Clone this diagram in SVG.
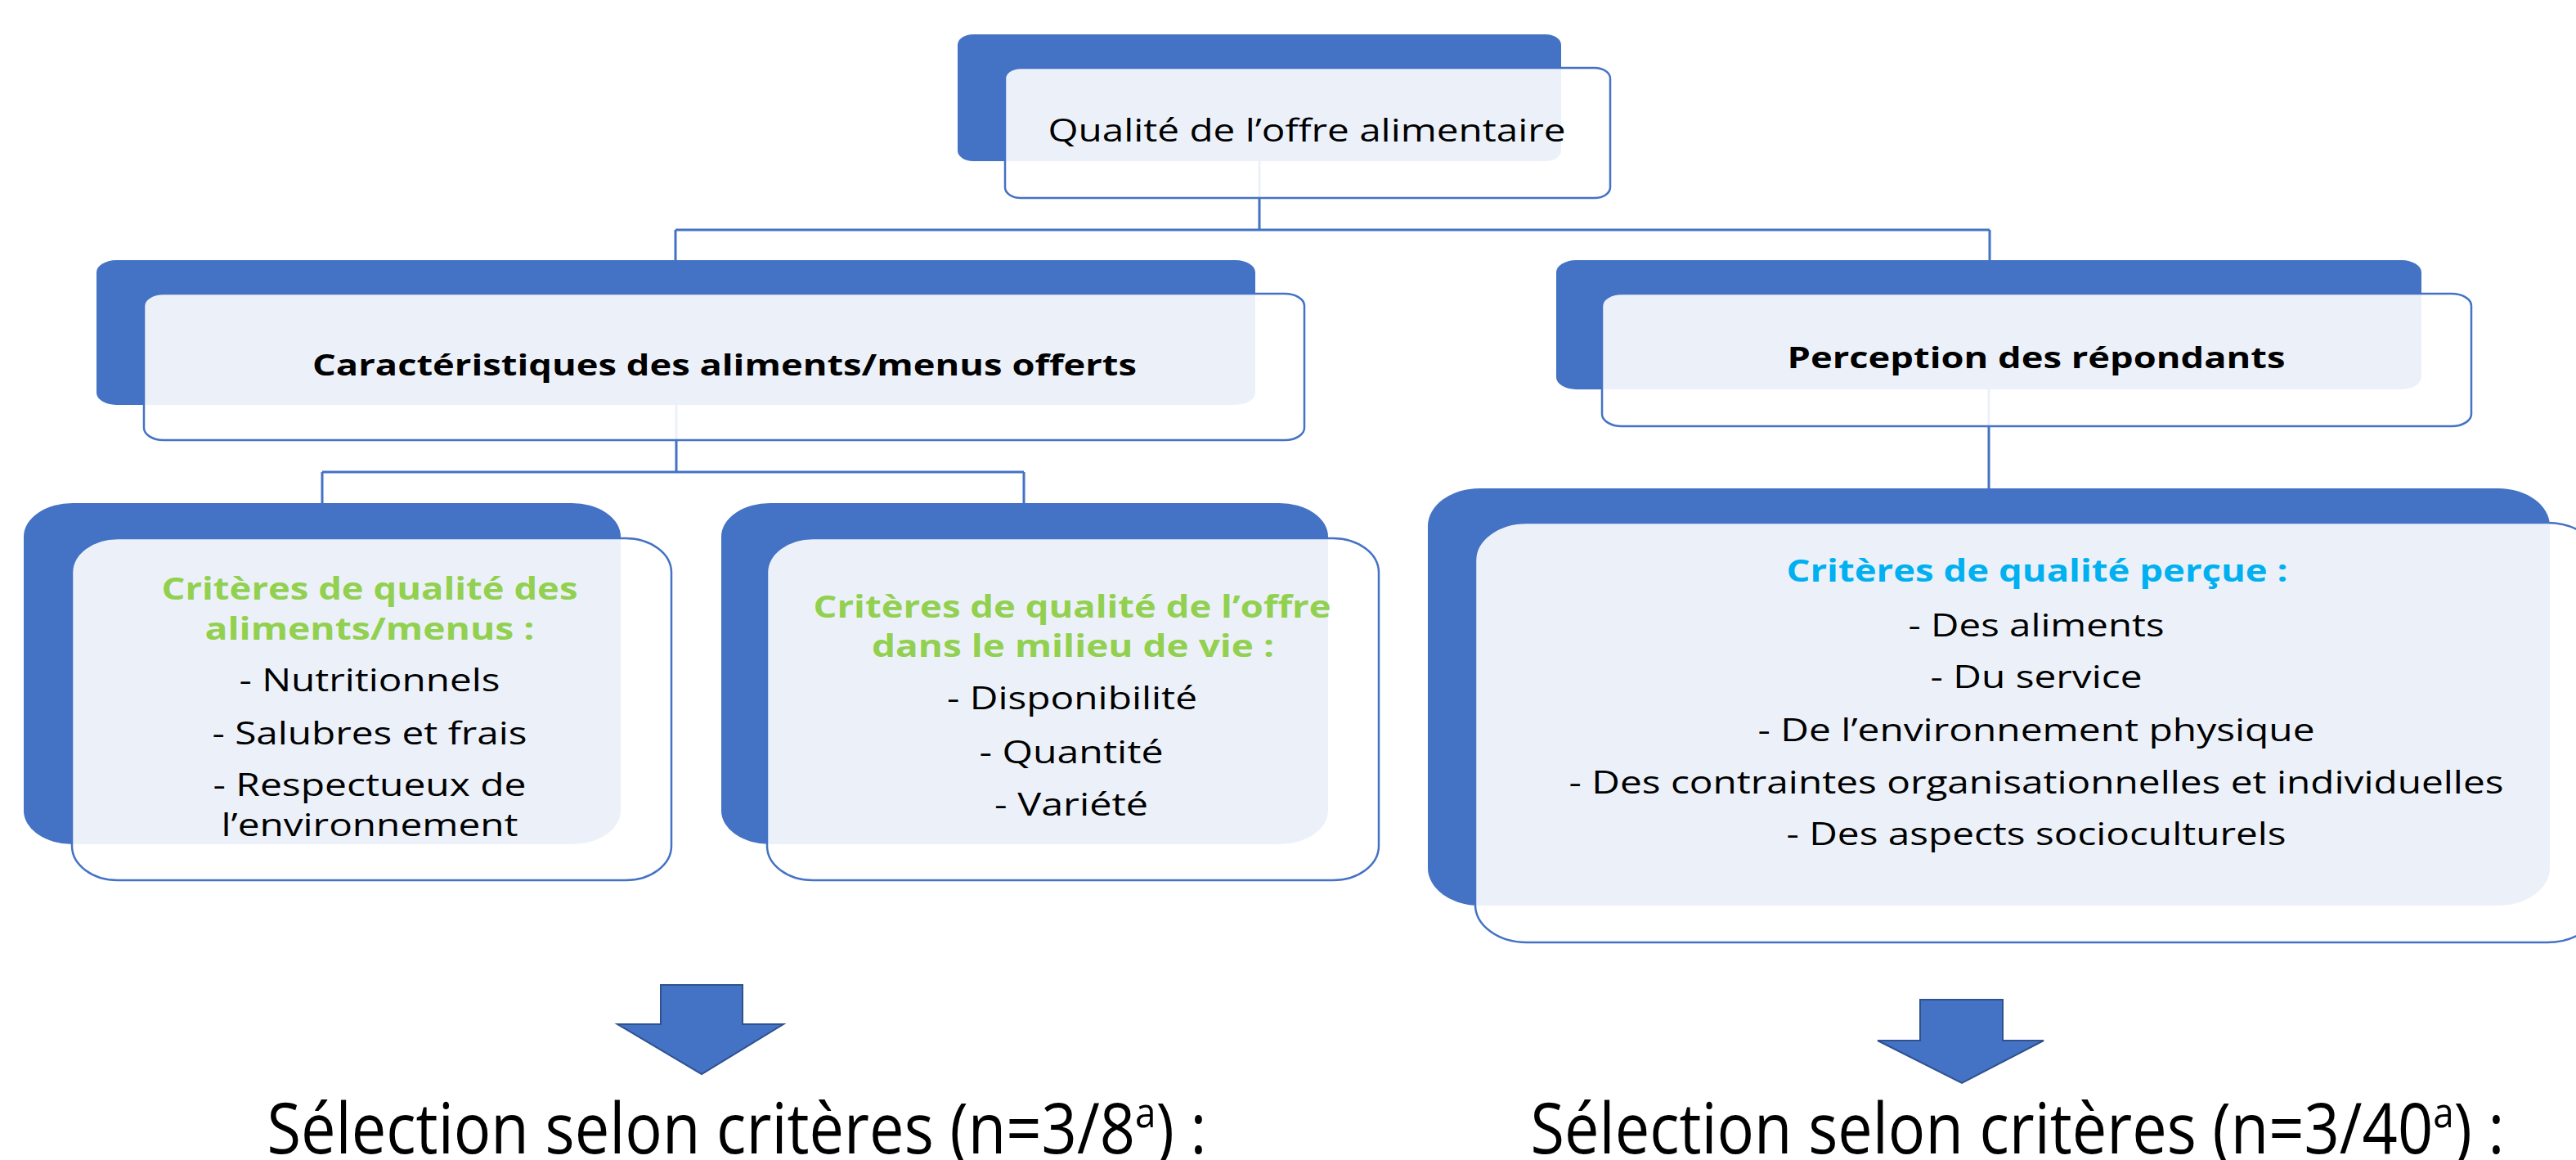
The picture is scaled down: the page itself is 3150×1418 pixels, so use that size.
<svg xmlns="http://www.w3.org/2000/svg" width="3150" height="1418" viewBox="0 0 3150 1418">
<style>
.back{fill:#4472C4}
.front{fill:#FFFFFF;fill-opacity:0.9;stroke:#4472C4;stroke-width:2.5}
.conn{fill:none;stroke:#4472C4;stroke-width:3}
.t{font-family:"Open Sans","Noto Sans","Liberation Sans",sans-serif;fill:#000;text-anchor:middle}
.b{font-weight:700}
.g{fill:#92D050;font-weight:700}
.c{fill:#00B0F0;font-weight:700}
.arrow{fill:#4472C4;stroke:#2F528F;stroke-width:2}
</style>
<rect width="3150" height="1418" fill="#FFFFFF"/>
<g id="connectors">
<path class="conn" d="M1540 197 V281 M826 281 H2433 M826 281 V318 M2433 281 V318"/>
<path class="conn" d="M827 495 V577 M394 577 H1252 M394 577 V615 M1252 577 V615"/>
<path class="conn" d="M2432 476 V597"/>
</g>
<g id="node-root">
<rect class="back" x="1171" y="42" width="738" height="155" rx="19" ry="13"/>
<rect class="front" x="1229" y="83" width="740" height="159" rx="19" ry="13"/>
<text class="t" x="1598" y="173" font-size="38" textLength="633" lengthAdjust="spacingAndGlyphs">Qualité de l’offre alimentaire</text>
</g>
<g id="node-caracteristiques">
<rect class="back" x="118" y="318" width="1417" height="177" rx="24" ry="15"/>
<rect class="front" x="176" y="359" width="1419" height="179" rx="24" ry="15"/>
<text class="t b" x="886" y="459" font-size="36" textLength="1008" lengthAdjust="spacingAndGlyphs">Caractéristiques des aliments/menus offerts</text>
</g>
<g id="node-perception">
<rect class="back" x="1903" y="318" width="1058" height="158" rx="24" ry="15"/>
<rect class="front" x="1959" y="359" width="1063" height="162" rx="24" ry="15"/>
<text class="t b" x="2490" y="450" font-size="36" textLength="609" lengthAdjust="spacingAndGlyphs">Perception des répondants</text>
</g>
<g id="node-criteres-aliments">
<rect class="back" x="29" y="615" width="730" height="417" rx="60" ry="41"/>
<rect class="front" x="88" y="658" width="733" height="418" rx="56" ry="42"/>
<text class="t g" x="452" y="733" font-size="38" textLength="509" lengthAdjust="spacingAndGlyphs">Critères de qualité des</text>
<text class="t g" x="452" y="782" font-size="38" textLength="403" lengthAdjust="spacingAndGlyphs">aliments/menus :</text>
<text class="t" x="452" y="845" font-size="38" textLength="319" lengthAdjust="spacingAndGlyphs">- Nutritionnels</text>
<text class="t" x="452" y="910" font-size="38" textLength="385" lengthAdjust="spacingAndGlyphs">- Salubres et frais</text>
<text class="t" x="452" y="973" font-size="38" textLength="383" lengthAdjust="spacingAndGlyphs">- Respectueux de</text>
<text class="t" x="452" y="1022" font-size="38" textLength="363" lengthAdjust="spacingAndGlyphs">l’environnement</text>
</g>
<g id="node-criteres-offre">
<rect class="back" x="882" y="615" width="742" height="417" rx="60" ry="41"/>
<rect class="front" x="938" y="658" width="748" height="418" rx="56" ry="42"/>
<text class="t g" x="1311" y="755" font-size="38" textLength="633" lengthAdjust="spacingAndGlyphs">Critères de qualité de l’offre</text>
<text class="t g" x="1312" y="803" font-size="38" textLength="492" lengthAdjust="spacingAndGlyphs">dans le milieu de vie :</text>
<text class="t" x="1311" y="867" font-size="38" textLength="306" lengthAdjust="spacingAndGlyphs">- Disponibilité</text>
<text class="t" x="1310" y="933" font-size="38" textLength="225" lengthAdjust="spacingAndGlyphs">- Quantité</text>
<text class="t" x="1310" y="997" font-size="38" textLength="188" lengthAdjust="spacingAndGlyphs">- Variété</text>
</g>
<g id="node-criteres-percue">
<rect class="back" x="1746" y="597" width="1372" height="510" rx="63" ry="46"/>
<rect class="front" x="1804" y="639" width="1374" height="513" rx="63" ry="46"/>
<text class="t c" x="2491" y="711" font-size="38" textLength="613" lengthAdjust="spacingAndGlyphs">Critères de qualité perçue :</text>
<text class="t" x="2490" y="778" font-size="38" textLength="313" lengthAdjust="spacingAndGlyphs">- Des aliments</text>
<text class="t" x="2490" y="841" font-size="38" textLength="259" lengthAdjust="spacingAndGlyphs">- Du service</text>
<text class="t" x="2490" y="906" font-size="38" textLength="681" lengthAdjust="spacingAndGlyphs">- De l’environnement physique</text>
<text class="t" x="2490" y="970" font-size="38" textLength="1143" lengthAdjust="spacingAndGlyphs">- Des contraintes organisationnelles et individuelles</text>
<text class="t" x="2490" y="1033" font-size="38" textLength="611" lengthAdjust="spacingAndGlyphs">- Des aspects socioculturels</text>
</g>
<g id="arrow-left">
<polygon class="arrow" points="808,1204 908,1204 908,1252 958,1252 858,1313 755,1252 808,1252"/>
</g>
<g id="arrow-right">
<polygon class="arrow" points="2348,1222 2449,1222 2449,1272 2499,1272 2399,1324 2296,1272 2348,1272"/>
</g>
<g id="selection-left">
<text class="t" x="901" y="1410" font-size="86" textLength="1149" lengthAdjust="spacingAndGlyphs">Sélection selon critères (n=3/8<tspan font-size="52" dy="-32">a</tspan><tspan dy="32">) :</tspan></text>
</g>
<g id="selection-right">
<text class="t" x="2467" y="1410" font-size="86" textLength="1191" lengthAdjust="spacingAndGlyphs">Sélection selon critères (n=3/40<tspan font-size="52" dy="-32">a</tspan><tspan dy="32">) :</tspan></text>
</g>
</svg>
